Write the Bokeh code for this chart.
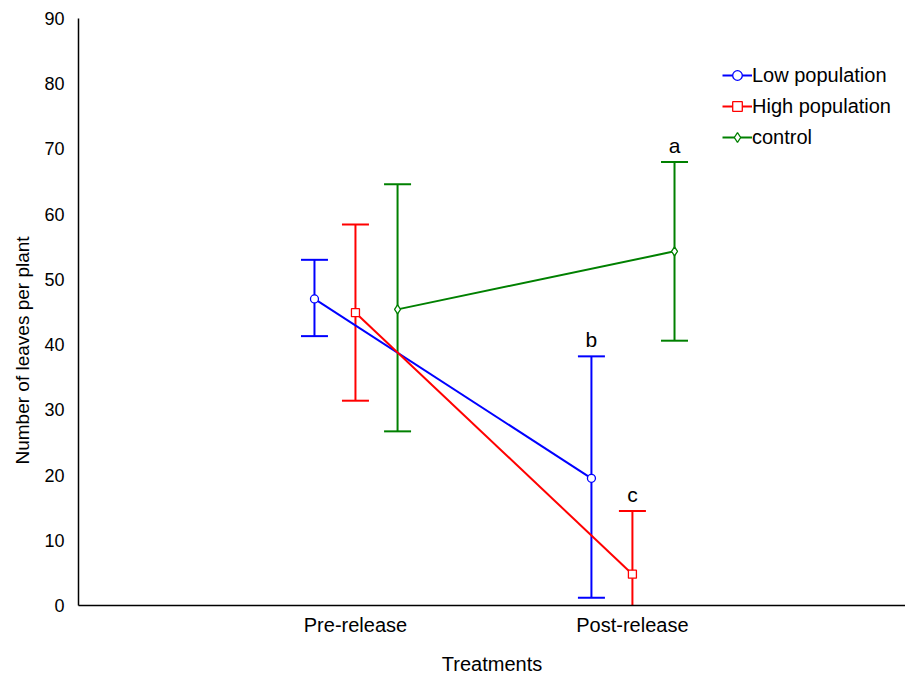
from bokeh.plotting import figure
from bokeh.models import (ColumnDataSource, Whisker, TeeHead, Legend, LegendItem,
                          FixedTicker, Range1d, LabelSet, Title)
from bokeh.embed import file_html
from bokeh.resources import INLINE
from bokeh.core.properties import value

# ---- data ----
categories = ["Pre-release", "Post-release"]
series_names = ["Low population", "High population", "control"]
low_mean = [47.0, 19.5]
low_upper = [53.0, 38.2]
low_lower = [41.3, 1.2]
high_mean = [44.9, 4.8]
high_upper = [58.4, 14.5]
high_lower = [31.4, -4.9]
control_mean = [45.4, 54.3]
control_upper = [64.6, 68.0]
control_lower = [26.7, 40.6]
post_letters = ["b", "c", "a"]
y_ticks = [0, 10, 20, 30, 40, 50, 60, 70, 80, 90]

# ---- styling ----
FONT = "Liberation Sans"
colors = ["#0000FF", "#FF0000", "#008000"]
markers = ["circle", "square", "diamond"]
marker_sizes = [8, 8, 9]
offsets = [-0.148, 0.0, 0.152]
cat_pos = [1, 2]

means = [low_mean, high_mean, control_mean]
uppers = [low_upper, high_upper, control_upper]
lowers = [low_lower, high_lower, control_lower]

p = figure(width=905, height=677, x_range=Range1d(0, 2.986), y_range=Range1d(0, 90),
           output_backend="svg", toolbar_location=None,
           min_border_left=78, min_border_right=0, min_border_top=18, min_border_bottom=72)
p.outline_line_color = None
p.grid.visible = False
p.background_fill_color = "white"
p.border_fill_color = "white"

p.xaxis.ticker = FixedTicker(ticks=cat_pos)
p.xaxis.major_label_overrides = {cat_pos[i]: categories[i] for i in range(len(categories))}
p.yaxis.ticker = FixedTicker(ticks=y_ticks)
for ax in (p.xaxis[0], p.yaxis[0]):
    ax.major_tick_line_color = None
    ax.minor_tick_line_color = None
    ax.axis_line_color = "black"
    ax.axis_line_width = 1.5
    ax.major_label_text_font = FONT
    ax.major_label_text_color = "black"
    ax.axis_label_text_font = FONT
    ax.axis_label_text_font_style = "normal"
    ax.axis_label_text_color = "black"
p.xaxis.major_label_text_font_size = "20px"
p.yaxis.major_label_text_font_size = "18px"
p.xaxis.axis_label = "Treatments"
p.xaxis.axis_label_text_font_size = "20px"
p.xaxis.major_label_standoff = 2
p.yaxis.major_label_standoff = 8
p.xaxis.axis_label_standoff = 14

# y-axis title, shifted down like the reference
ytitle = Title(text="Number of leaves per plant", align="left", offset=141,
               text_font=FONT, text_font_size="19px", text_font_style="normal",
               text_color="black", standoff=18)
p.add_layout(ytitle, "left")

legend_items = []
for i in range(3):
    xs = [cat_pos[j] + offsets[i] for j in range(2)]
    src = ColumnDataSource(dict(x=xs, y=means[i], upper=uppers[i], lower=lowers[i]))
    w = Whisker(base="x", upper="upper", lower="lower", source=src, dimension="height",
                line_color=colors[i], line_width=2, level="underlay",
                upper_head=TeeHead(size=27, line_color=colors[i], line_width=2),
                lower_head=TeeHead(size=27, line_color=colors[i], line_width=2))
    p.add_layout(w)
    lr = p.line("x", "y", source=src, line_color=colors[i], line_width=2)
    sr = p.scatter("x", "y", source=src, marker=markers[i], size=marker_sizes[i],
                   line_color=colors[i], fill_color="white", line_width=1.3)
    legend_items.append(LegendItem(label=series_names[i], renderers=[lr, sr]))

# significance letters above post-release error bars
lsrc = ColumnDataSource(dict(x=[cat_pos[1] + o for o in offsets],
                             y=[u[1] for u in uppers], t=post_letters))
letters = LabelSet(x="x", y="y", text="t", source=lsrc, text_font=value(FONT),
                   text_font_size=value("21px"), text_align="center",
                   text_baseline="alphabetic", y_offset=9, text_color="black")
p.add_layout(letters)

legend = Legend(items=legend_items, location=(644, 456), padding=0, spacing=7,
                glyph_width=30, glyph_height=24, label_height=24, label_standoff=0,
                margin=0, border_line_color=None, background_fill_alpha=0,
                label_text_font=FONT, label_text_font_size="20px", label_text_color="black")
p.add_layout(legend)

open("out.html", "w").write(file_html(p, INLINE))
